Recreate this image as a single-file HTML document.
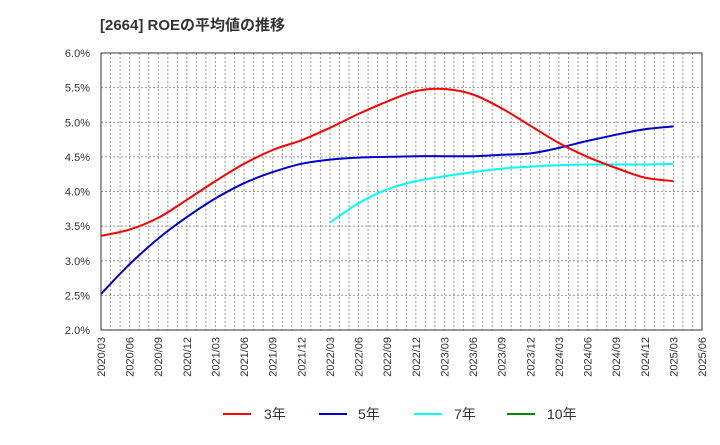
<!DOCTYPE html>
<html><head><meta charset="utf-8"><style>
body{margin:0;background:#fff;font-family:"Liberation Sans","Noto Sans CJK JP",sans-serif;}
svg text{font-family:"Liberation Sans","Noto Sans CJK JP",sans-serif;fill:#333;}
</style></head><body>
<svg width="720" height="440" xmlns="http://www.w3.org/2000/svg">
<text x="100" y="30" font-size="15" font-weight="bold">[2664]  ROEの平均値の推移</text>
<g id="grid"></g>
<g id="yaxis"></g>
<g id="xaxis"></g>
<g id="series"></g>
<rect x="101" y="53" width="601" height="277" fill="none" stroke="#333" stroke-width="1"/>
<g>
<g><line x1="223" y1="414" x2="251" y2="414" stroke="#f00" stroke-width="2"/><text x="264" y="419" font-size="14">3年</text></g>
<g><line x1="319" y1="414" x2="347" y2="414" stroke="#00c" stroke-width="2"/><text x="358" y="419" font-size="14">5年</text></g>
<g><line x1="414" y1="414" x2="442" y2="414" stroke="#0ff" stroke-width="2"/><text x="454" y="419" font-size="14">7年</text></g>
<g><line x1="507" y1="414" x2="535" y2="414" stroke="#080" stroke-width="2"/><text x="547" y="419" font-size="14">10年</text></g>
</g>
</svg>
<script>
const xLabels=["2020/03","2020/06","2020/09","2020/12","2021/03","2021/06","2021/09","2021/12","2022/03","2022/06","2022/09","2022/12","2023/03","2023/06","2023/09","2023/12","2024/03","2024/06","2024/09","2024/12","2025/03","2025/06"];
const yTicks=[2.0,2.5,3.0,3.5,4.0,4.5,5.0,5.5,6.0];
const roe3=[3.36,3.45,3.62,3.88,4.15,4.40,4.60,4.74,4.92,5.12,5.30,5.45,5.48,5.40,5.20,4.95,4.70,4.50,4.34,4.20,4.15];
const roe5=[2.52,2.95,3.32,3.63,3.90,4.12,4.28,4.40,4.46,4.49,4.50,4.51,4.51,4.51,4.53,4.55,4.63,4.73,4.82,4.90,4.94];
const roe7=[null,null,null,null,null,null,null,null,3.55,3.83,4.03,4.15,4.22,4.28,4.33,4.36,4.38,4.39,4.39,4.39,4.40];
const roe10=[];
const NS="http://www.w3.org/2000/svg";
const X0=101,X1=702,Y0=330,Y1=53;
const xs=i=>X0+(X1-X0)*i/(xLabels.length-1);
const ys=v=>Y0-(v-2)/(6-2)*(Y0-Y1);
function mk(t,a,p){const e=document.createElementNS(NS,t);for(const k in a)e.setAttribute(k,a[k]);p.appendChild(e);return e;}
const grid=document.getElementById('grid');
const nMonths=(xLabels.length-1)*3;
for(let m=1;m<nMonths;m++){const x=X0+(X1-X0)*m/nMonths;
const l=mk('line',{x1:x,x2:x,y1:Y1,y2:Y0,stroke:'#999','stroke-dasharray':'2,2','stroke-width':1},grid);

}
const ya=document.getElementById('yaxis');
yTicks.forEach(v=>{const y=ys(v);
if(v>2&&v<6){const l=mk('line',{x1:X0,x2:X1,y1:y,y2:y,stroke:'#999','stroke-dasharray':'2,2','stroke-width':1},grid);

}
const t=mk('text',{x:90,y:y+4,'text-anchor':'end','font-size':11},ya);t.textContent=v.toFixed(1)+'%';

});
const xa=document.getElementById('xaxis');
xLabels.forEach((s,i)=>{const x=xs(i);
const t=mk('text',{x:0,y:0,transform:`translate(${x+4},337) rotate(-90)`,'text-anchor':'end','font-size':11},xa);t.textContent=s;

});
const sg=document.getElementById('series');
function line(arr,col,name){
const pts=[];arr.forEach((v,i)=>{if(v!=null)pts.push([xs(i),ys(v)]);});
if(pts.length<2)return;
let d='M'+pts[0][0].toFixed(1)+','+pts[0][1].toFixed(1);
for(let i=0;i<pts.length-1;i++){
const p0=pts[Math.max(0,i-1)],p1=pts[i],p2=pts[i+1],p3=pts[Math.min(pts.length-1,i+2)];
const c1x=p1[0]+(p2[0]-p0[0])/6,c1y=p1[1]+(p2[1]-p0[1])/6;
const c2x=p2[0]-(p3[0]-p1[0])/6,c2y=p2[1]-(p3[1]-p1[1])/6;
d+=`C${c1x.toFixed(1)},${c1y.toFixed(1)} ${c2x.toFixed(1)},${c2y.toFixed(1)} ${p2[0].toFixed(1)},${p2[1].toFixed(1)}`;}
const p=mk('path',{d:d,fill:'none',stroke:col,'stroke-width':2,'stroke-linejoin':'round'},sg);

}
line(roe7,'#0ff','line-7y');line(roe5,'#00c','line-5y');line(roe3,'#f00','line-3y');line(roe10,'#080','line-10y');
</script>
</body></html>
